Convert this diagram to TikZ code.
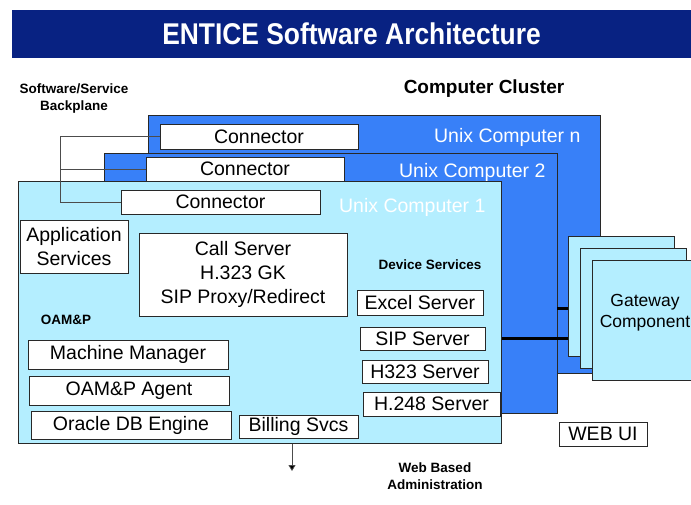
\documentclass[tikz,border=0pt]{standalone}
\usepackage{fontspec}
\setmainfont{Liberation Sans}
\newfontfamily\titlefont[FakeStretch=0.88]{Liberation Sans}
\usetikzlibrary{arrows.meta}
\definecolor{titleblue}{RGB}{8,34,130}
\definecolor{unixblue}{RGB}{56,128,248}
\definecolor{unixlight}{RGB}{180,238,255}
\definecolor{edgegray}{RGB}{40,40,40}
\tikzset{
  sz/.style 2 args={minimum width=#1pt, minimum height=#2pt},
  compbox/.style={draw=edgegray, line width=1pt, inner sep=0pt},
  svcbox/.style={draw=edgegray, line width=1pt, fill=white, inner sep=0pt,
    align=center, font=\fontsize{19.5}{23.5}\selectfont},
  smalllabel/.style={align=center, font=\bfseries\fontsize{13.5}{17}\selectfont},
  unixlabel/.style={anchor=east, text=white, font=\fontsize{19.5}{23}\selectfont},
  bus/.style={line width=3pt},
}
\begin{document}
\begin{tikzpicture}[x=1pt,y=-1pt]
  \clip (0,0) rectangle (691,504);
  % title bar
  \node[fill=titleblue, sz={679}{48}, inner sep=0pt, text=white,
    font=\titlefont\bfseries\fontsize{30}{36}\selectfont] (title) at (351.5,34) {ENTICE Software Architecture};
  % headings
  \node[smalllabel] (backplane) at (74,99) {Software/Service\\Backplane};
  \node[smalllabel, font=\bfseries\fontsize{19}{23}\selectfont] (cluster) at (484,89) {Computer Cluster};
  % Unix computer n
  \node[compbox, fill=unixblue, sz={452}{258}] (unixn) at (374,244) {};
  \node[unixlabel] (unixnlab) at (584,137) {Unix Computer n};
  \node[svcbox, sz={198}{25}] (connn) at (259,136.5) {Connector};
  % Unix computer 2
  \node[compbox, fill=unixblue, sz={453}{260}] (unix2) at (330.5,283) {};
  \node[unixlabel] (unix2lab) at (549,172) {Unix Computer 2};
  \node[svcbox, sz={198}{24}] (conn2) at (245,169) {Connector};
  % Unix computer 1
  \node[compbox, fill=unixlight, sz={483}{262}] (unix1) at (259.5,312) {};
  \node[unixlabel] (unix1lab) at (489,207) {Unix Computer 1};
  \node[svcbox, sz={199}{24}] (conn1) at (220.5,202) {Connector};
  % services in computer 1
  \node[svcbox, sz={108}{53}] (appsvc) at (74,246.5) {Application\\Services};
  \node[svcbox, sz={208}{83}, font=\fontsize{19.5}{24}\selectfont] (callsrv) at (243,274.5) {Call Server\\H.323 GK\\SIP Proxy/Redirect};
  \node[smalllabel] (devsvc) at (430,265) {Device Services};
  \node[svcbox, sz={126}{25}] (excel) at (420,302.5) {Excel Server};
  \node[svcbox, sz={125}{23}] (sip) at (422.5,338.5) {SIP Server};
  \node[svcbox, sz={126}{23}] (h323) at (425,371.5) {H323 Server};
  \node[svcbox, sz={137}{24}] (h248) at (431.5,404) {H.248 Server};
  \node[smalllabel] (oamp) at (66,320) {OAM\&P};
  \node[svcbox, sz={200}{29}] (machmgr) at (128,354.5) {Machine Manager};
  \node[svcbox, sz={200}{29}] (agent) at (129,390.5) {OAM\&P Agent};
  \node[svcbox, sz={200}{28}] (oracle) at (131,425) {Oracle DB Engine};
  \node[svcbox, sz={119}{23}] (billing) at (298.5,426.5) {Billing Svcs};
  % gateway components
  \node[compbox, fill=unixlight, sz={106}{120}] (gw1) at (621,296) {};
  \node[compbox, fill=unixlight, sz={106}{120}] (gw2) at (633,308) {};
  \node[compbox, fill=unixlight, sz={106}{120}] (gw3) at (645,320) {};
  \node[align=center, font=\fontsize{17.5}{21}\selectfont] (gwtext) at (645,313) {Gateway\\Component};
  % links to the gateways
  \coordinate (busa) at (557,308);
  \draw[bus] (busa) -- (busa -| gw1.west);
  \draw[bus] (unix1.east |- sip) -- (sip -| gw1.west);
  % web administration
  \node[svcbox, sz={88}{24}] (webui) at (603,434) {WEB UI};
  \node[smalllabel] (webadmin) at (435,476) {Web Based\\Administration};
  \coordinate (webend) at (292,471);
  \draw[gray!60!black, line width=0.8pt, -{Triangle[width=7pt,length=6pt,fill=black]}] (webend |- unix1.south) -- (webend);
  % backplane
  \coordinate (bp) at (60,202);
  \draw[gray!60!black, line width=0.8pt] (connn.west) -| (bp) -- (conn1.west);
  \draw[gray!60!black, line width=0.8pt] (conn2.west) -- (conn2.west -| bp);
\end{tikzpicture}
\end{document}
